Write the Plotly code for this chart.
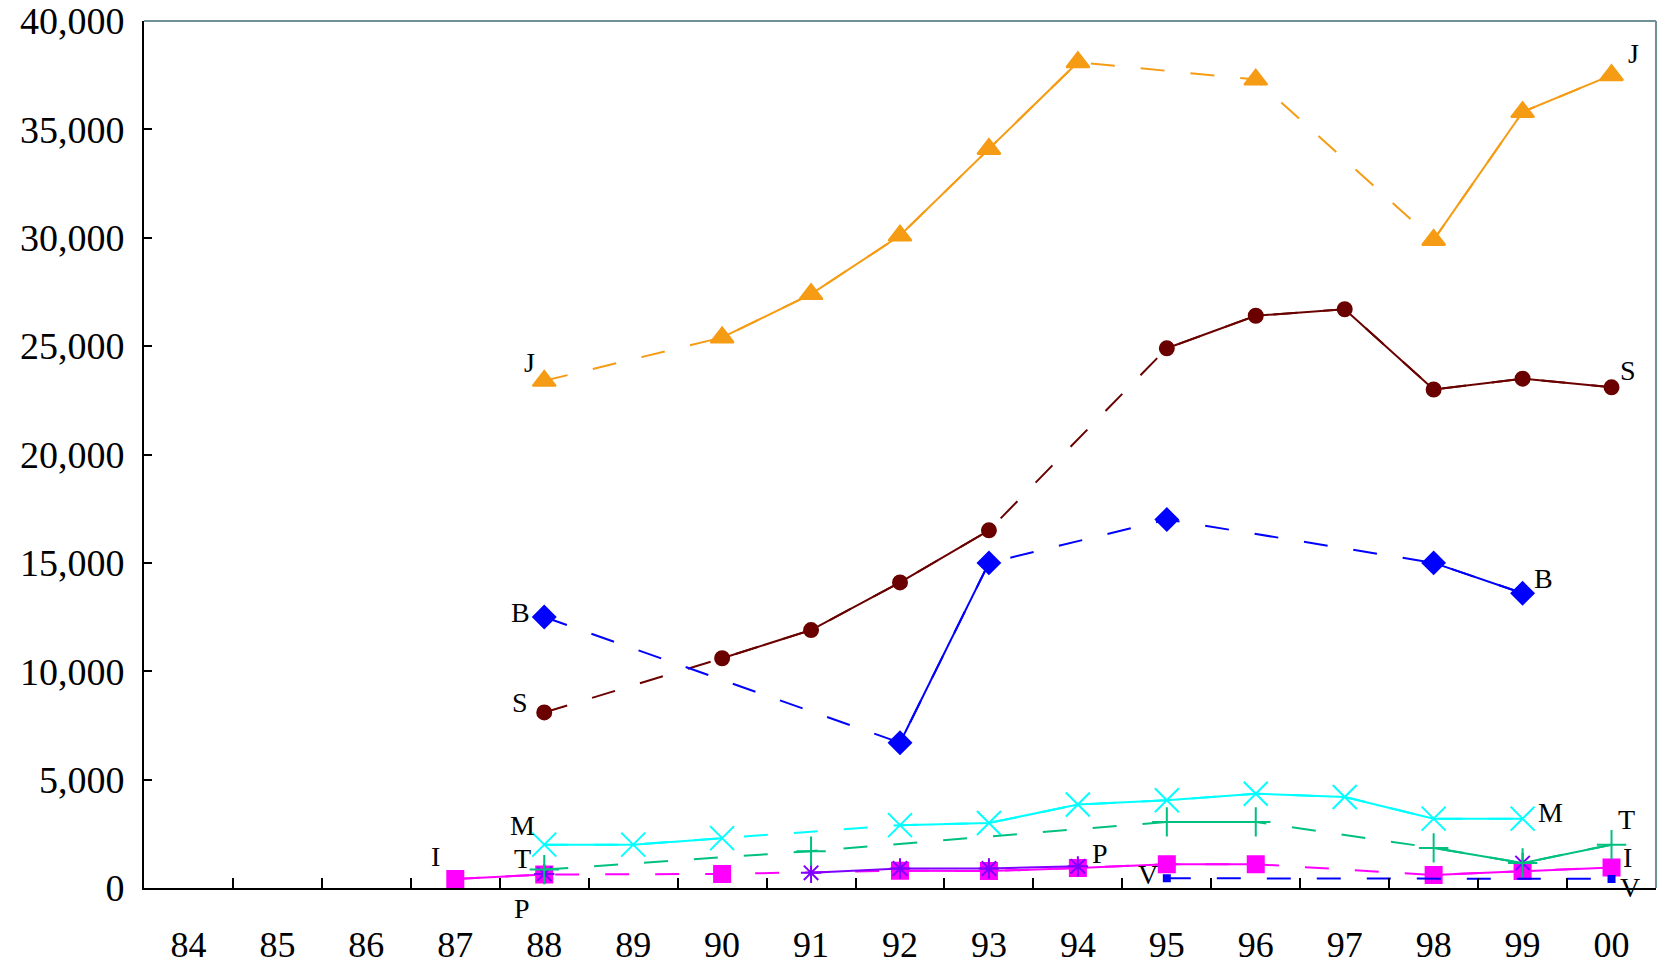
import plotly.graph_objects as go

years = ["84", "85", "86", "87", "88", "89", "90", "91", "92", "93",
         "94", "95", "96", "97", "98", "99", "00"]

J_years = ["88", "90", "91", "92", "93", "94", "96", "98", "99", "00"]
J_vals = [23400, 25400, 27400, 30100, 34100, 38100, 37300, 29900, 35800, 37500]

S_years = ["88", "90", "91", "92", "93", "95", "96", "97", "98", "99", "00"]
S_vals = [8100, 10600, 11900, 14100, 16500, 24900, 26400, 26700, 23000, 23500, 23100]

B_years = ["88", "92", "93", "95", "98", "99"]
B_vals = [12500, 6700, 15000, 17000, 15000, 13600]

M_years = ["88", "89", "90", "92", "93", "94", "95", "96", "97", "98", "99"]
M_vals = [2000, 2000, 2300, 2900, 3000, 3850, 4050, 4350, 4200, 3200, 3200]

T_years = ["88", "91", "95", "96", "98", "99", "00"]
T_vals = [850, 1700, 3050, 3050, 1850, 1150, 2000]

I_years = ["87", "88", "90", "92", "93", "94", "95", "96", "98", "99", "00"]
I_vals = [420, 620, 650, 800, 780, 920, 1100, 1100, 600, 780, 950]

P_years = ["88", "91", "92", "93", "94", "99"]
P_vals = [650, 700, 900, 900, 1000, 1150]

V_years = ["95", "00"]
V_vals = [450, 420]

y_ticks = [0, 5000, 10000, 15000, 20000, 25000, 30000, 35000, 40000]

FONT = "Liberation Serif"

# name, years, vals, color, symbol, size, dashed gaps, start label offset,
# end-label point index, end label offset
series = [
    ("J", J_years, J_vals, "#f59c14", "triangle-up", 20, True, (-15, 18), -1, (22, 22)),
    ("S", S_years, S_vals, "#6a0000", "circle", 14, True, (-24, 10), -1, (16, 17)),
    ("B", B_years, B_vals, "#0000ff", "diamond", 17, True, (-24, 5), -1, (21, 15)),
    ("M", M_years, M_vals, "#00ffff", "x-thin", 24, True, (-22, 19), -1, (28, 6)),
    ("I", I_years, I_vals, "#ff00ff", "square", 16, True, (-20, 22), -1, (16, 10)),
    ("P", P_years, P_vals, "#7f00ff", "asterisk-open", 17, False, (-22, -35), 4, (22, 13)),
    ("T", T_years, T_vals, "#00c080", "cross-thin", 21, True, (-22, 11), -1, (15, 25)),
    ("V", V_years, V_vals, "#0000ff", "square", 6, True, (-19, 4), -1, (18, -9)),
]

fig = go.Figure()
annotations = []

for name, yrs, vals, color, sym, size, dashed, off0, end_i, off1 in series:
    lookup = dict(zip(yrs, vals))
    first = years.index(yrs[0])
    last = years.index(yrs[-1])
    full_x = years[first:last + 1]
    full_y = [lookup.get(y) for y in full_x]
    if dashed:
        fig.add_trace(go.Scatter(
            x=yrs, y=vals, mode="lines",
            line=dict(color=color, width=2, dash="24px,26px"),
            hoverinfo="skip", showlegend=False))
    fig.add_trace(go.Scatter(
        x=full_x, y=full_y, mode="lines", connectgaps=False,
        line=dict(color=color, width=2),
        hoverinfo="skip", showlegend=False))
    fig.add_trace(go.Scatter(
        x=yrs, y=vals, mode="markers", name=name,
        marker=dict(symbol=sym, size=size, color=color, line=dict(color=color, width=2)),
        showlegend=False))
    for yr, v, off in ((yrs[0], vals[0], off0), (yrs[end_i], vals[end_i], off1)):
        annotations.append(dict(x=years.index(yr), y=v, xref="x", yref="y", text=name,
                                showarrow=False, xshift=off[0], yshift=off[1],
                                font=dict(family=FONT, size=28, color="black")))

fig.update_layout(
    width=1663, height=977,
    margin=dict(l=144, r=7, t=21, b=89),
    plot_bgcolor="white", paper_bgcolor="white",
    font=dict(family=FONT, size=36, color="black"),
    annotations=annotations,
    shapes=[
        dict(type="line", xref="paper", yref="paper", x0=0, x1=1, y0=1, y1=1,
             line=dict(color="#6f8f99", width=2)),
        dict(type="line", xref="paper", yref="paper", x0=1, x1=1, y0=0, y1=1,
             line=dict(color="#6f8f99", width=2)),
    ],
)
fig.update_xaxes(
    type="category", categoryorder="array", categoryarray=years,
    tickvals=years, ticktext=years,
    range=[-0.5, len(years) - 0.5],
    showline=True, linecolor="black", linewidth=2,
    ticks="inside", tickson="boundaries", ticklen=10, tickwidth=2, tickcolor="black",
    showgrid=False, zeroline=False, automargin=False,
    tickfont=dict(family=FONT, size=36, color="black"),
    ticklabelstandoff=24, ticklabeloverflow="allow",
)
fig.update_yaxes(
    range=[0, 40000], tickvals=y_ticks, tickformat=",",
    showline=True, linecolor="black", linewidth=2,
    ticks="inside", ticklen=8, tickwidth=2, tickcolor="black",
    showgrid=False, zeroline=False, automargin=False,
    tickfont=dict(family=FONT, size=38, color="black"),
    ticklabelstandoff=10, ticklabeloverflow="allow",
)

fig.write_html("out.html",
               config={"displayModeBar": False},
               post_script="document.body.style.margin='0';document.body.style.overflow='hidden';")
